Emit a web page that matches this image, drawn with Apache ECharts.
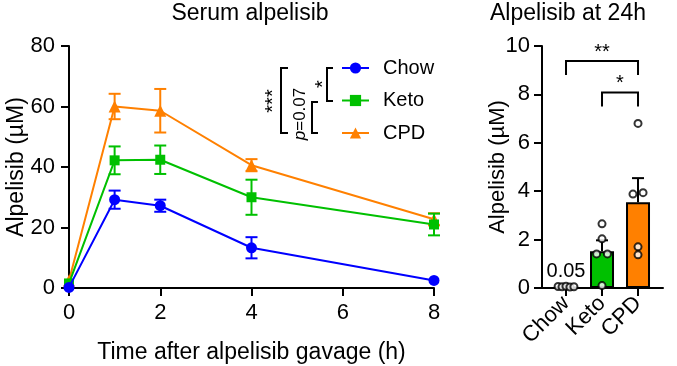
<!DOCTYPE html>
<html><head><meta charset="utf-8">
<script src="https://cdn.jsdelivr.net/npm/echarts@6/dist/echarts.min.js"></script>
<style>html,body{margin:0;padding:0;background:#fff}#c{width:677px;height:366px}</style>
</head><body><div id="c"></div>
<script>
// ---- Data: time course (left panel) ----
const times = [0, 1, 2, 4, 8];
const chowMean = [0.2, 29.2, 27.2, 13.3, 2.5];
const chowSem  = [0, 3.0, 2.0, 3.5, 0];
const ketoMean = [1.5, 42.2, 42.4, 30.0, 21.0];
const ketoSem  = [0, 4.6, 4.7, 5.8, 3.6];
const cpdMean  = [2.5, 60.0, 58.6, 40.6, 22.7];
const cpdSem   = [0, 4.2, 7.2, 2.0, 2.0];
const xTicks = [0, 2, 4, 6, 8];
const yTicksLeft = [0, 20, 40, 60, 80];

// ---- Data: 24h (right panel) ----
const groups = ['Chow', 'Keto', 'CPD'];
const barMeans = [0.05, 1.52, 3.54];
const barSems  = [0.02, 0.45, 1.0];
const chowPts = [0.06, 0.05, 0.07, 0.04, 0.05];
const ketoPts = [2.65, 2.03, 1.41, 1.41, 0.10];
const cpdPts  = [6.80, 3.88, 3.94, 1.70, 1.37];
const yTicksRight = [0, 2, 4, 6, 8, 10];
const sigFrom = [1, 2];
const sigTo   = [3, 3];
const sigY    = [9.38, 8.08];
const sigLabels = ['**', '*'];

// layout-only jitter (x offsets in category units)
const jitter = [
  [-0.22, -0.11, 0.0, 0.11, 0.22],
  [0.0, 0.0, -0.15, 0.15, 0.0],
  [0.0, -0.14, 0.14, 0.0, 0.0]
];

const FONT = 'Liberation Sans, Arial, sans-serif';
const BLUE = '#0000FF', GREEN = '#00C000', ORANGE = '#FF8000';

function errSeries(name, color, means, sems, z) {
  return {
    type: 'custom', xAxisIndex: 0, yAxisIndex: 0, z: z, silent: true,
    data: times.map((t, i) => [t, means[i], sems[i]]),
    renderItem: function (params, api) {
      const x = api.value(0), m = api.value(1), s = api.value(2);
      if (!s) return null;
      const lo = api.coord([x, m - s]), hi = api.coord([x, m + s]);
      const c = 6;
      const st = { stroke: color, lineWidth: 2 };
      return { type: 'group', children: [
        { type: 'line', shape: { x1: lo[0], y1: lo[1], x2: hi[0], y2: hi[1] }, style: st },
        { type: 'line', shape: { x1: hi[0] - c, y1: hi[1], x2: hi[0] + c, y2: hi[1] }, style: st },
        { type: 'line', shape: { x1: lo[0] - c, y1: lo[1], x2: lo[0] + c, y2: lo[1] }, style: st }
      ]};
    }
  };
}

function lineSeries(name, color, means, symbol, size, z) {
  return {
    name: name, type: 'line', xAxisIndex: 0, yAxisIndex: 0, z: z,
    data: times.map((t, i) => [t, means[i]]),
    symbol: symbol, symbolSize: size, showSymbol: true,
    lineStyle: { color: color, width: 2 },
    itemStyle: { color: color, borderWidth: 0 },
    animation: false
  };
}

const allPts = [chowPts, ketoPts, cpdPts];
const ptData = [];
allPts.forEach((arr, g) => arr.forEach((v, k) => ptData.push([g + 1 + jitter[g][k], v])));

const axisLineStyle = { color: '#000', width: 2 };
const labelStyle = { color: '#000', fontSize: 22, fontFamily: FONT };
const nameStyle = { color: '#000', fontSize: 23, fontFamily: FONT };

const option = {
  animation: false,
  textStyle: { fontFamily: FONT },
  grid: [
    { left: 69, right: 243, top: 46, bottom: 78, outerBoundsMode: 'none', containLabel: false },
    { left: 542, right: 14, top: 46, bottom: 78, outerBoundsMode: 'none', containLabel: false }
  ],
  xAxis: [
    { gridIndex: 0, type: 'value', min: 0, max: 8, interval: 2,
      axisLine: { lineStyle: axisLineStyle }, axisTick: { length: 8, lineStyle: axisLineStyle },
      axisLabel: Object.assign({ margin: 14 }, labelStyle), splitLine: { show: false },
      name: 'Time after alpelisib gavage (h)', nameLocation: 'middle', nameGap: 53, nameMoveOverlap: false,
      nameTextStyle: nameStyle },
    { gridIndex: 1, type: 'value', min: 0.333, max: 3.694,
      axisLine: { lineStyle: axisLineStyle },
      axisTick: { length: 8, lineStyle: axisLineStyle, customValues: [1, 2, 3] },
      axisLabel: Object.assign({ margin: 12, rotate: 45, customValues: [1, 2, 3],
        formatter: v => groups[Math.round(v) - 1] }, labelStyle),
      splitLine: { show: false } }
  ],
  yAxis: [
    { gridIndex: 0, type: 'value', min: 0, max: 80, interval: 20,
      axisLine: { show: true, lineStyle: axisLineStyle }, axisTick: { show: true, length: 8, lineStyle: axisLineStyle },
      axisLabel: Object.assign({ margin: 14 }, labelStyle), splitLine: { show: false },
      name: 'Alpelisib (\u00B5M)', nameLocation: 'middle', nameGap: 41, nameMoveOverlap: false,
      nameTextStyle: nameStyle },
    { gridIndex: 1, type: 'value', min: 0, max: 10, interval: 2,
      axisLine: { show: true, lineStyle: axisLineStyle }, axisTick: { show: true, length: 8, lineStyle: axisLineStyle },
      axisLabel: Object.assign({ margin: 12 }, labelStyle), splitLine: { show: false },
      name: 'Alpelisib (\u00B5M)', nameLocation: 'middle', nameGap: 33, nameMoveOverlap: false,
      nameTextStyle: labelStyle }
  ],
  legend: {
    data: ['Chow', 'Keto', 'CPD'], orient: 'vertical', left: 341, top: 58, padding: 0,
    itemWidth: 27, itemHeight: 14, itemGap: 12.5,
    textStyle: { fontSize: 20, color: '#000', fontFamily: FONT, lineHeight: 20, padding: [0, 0, 0, 9] }
  },
  series: [
    errSeries('CPD', ORANGE, cpdMean, cpdSem, 2),
    lineSeries('CPD', ORANGE, cpdMean, 'triangle', 12, 3),
    errSeries('Keto', GREEN, ketoMean, ketoSem, 4),
    lineSeries('Keto', GREEN, ketoMean, 'rect', 10, 5),
    errSeries('Chow', BLUE, chowMean, chowSem, 6),
    lineSeries('Chow', BLUE, chowMean, 'circle', 11, 7),
    // right panel bars
    { type: 'bar', xAxisIndex: 1, yAxisIndex: 1, barWidth: 24, z: 2,
      data: barMeans.map((m, i) => ({ value: [i + 1, m],
        itemStyle: { color: ['#ffffff', GREEN, ORANGE][i], borderColor: '#000', borderWidth: 2 },
        label: i === 0 ? { show: true, position: 'top', distance: 5, formatter: m.toFixed(2),
          fontSize: 20, color: '#000', fontFamily: FONT } : { show: false } })) },
    { type: 'custom', xAxisIndex: 1, yAxisIndex: 1, z: 3, silent: true,
      data: barMeans.map((m, i) => [i + 1, m, barSems[i]]),
      renderItem: function (params, api) {
        const x = api.value(0), m = api.value(1), s = api.value(2);
        const lo = api.coord([x, m]), hi = api.coord([x, m + s]);
        const st = { stroke: '#000', lineWidth: 2 };
        return { type: 'group', children: [
          { type: 'line', shape: { x1: lo[0], y1: lo[1], x2: hi[0], y2: hi[1] }, style: st },
          { type: 'line', shape: { x1: hi[0] - 6, y1: hi[1], x2: hi[0] + 6, y2: hi[1] }, style: st }
        ]};
      } },
    { type: 'scatter', xAxisIndex: 1, yAxisIndex: 1, z: 4, data: ptData,
      symbol: 'circle', symbolSize: 7,
      itemStyle: { color: '#fff', borderColor: '#000', borderWidth: 2 } },
    { type: 'custom', xAxisIndex: 1, yAxisIndex: 1, z: 5, silent: true,
      data: sigFrom.map((f, i) => [f, sigTo[i], sigY[i]]),
      renderItem: function (params, api) {
        const i = params.dataIndex;
        const a = api.coord([api.value(0), api.value(2)]);
        const b = api.coord([api.value(1), api.value(2)]);
        const drop = 14;
        return { type: 'group', children: [
          { type: 'polyline', shape: { points: [[a[0], a[1] + drop], a, b, [b[0], b[1] + drop]] },
            style: { stroke: '#000', lineWidth: 2, fill: null } },
          { type: 'text', x: (a[0] + b[0]) / 2, y: a[1] - 9,
            style: { text: sigLabels[i], fontSize: 20, fontFamily: FONT, fill: '#000',
              align: 'center', verticalAlign: 'middle' } }
        ]};
      } }
  ],
  graphic: [
    { type: 'text', x: 250, y: 14, style: { text: 'Serum alpelisib', fontSize: 23, fontFamily: FONT,
      fill: '#000', align: 'center', verticalAlign: 'middle' } },
    { type: 'text', x: 568, y: 14, style: { text: 'Alpelisib at 24h', fontSize: 23, fontFamily: FONT,
      fill: '#000', align: 'center', verticalAlign: 'middle' } },
    // significance brackets next to legend
    { type: 'polyline', shape: { points: [[288, 68], [281, 68], [281, 133], [288, 133]] },
      style: { stroke: '#000', lineWidth: 2, fill: null } },
    { type: 'polyline', shape: { points: [[333, 68], [327, 68], [327, 101], [333, 101]] },
      style: { stroke: '#000', lineWidth: 2, fill: null } },
    { type: 'polyline', shape: { points: [[318, 102], [312, 102], [312, 133], [318, 133]] },
      style: { stroke: '#000', lineWidth: 2, fill: null } },
    { type: 'text', x: 273, y: 101, rotation: Math.PI / 2,
      style: { text: '***', fontSize: 20, fontFamily: FONT, fill: '#000', align: 'center', verticalAlign: 'middle' } },
    { type: 'text', x: 323, y: 84, rotation: Math.PI / 2,
      style: { text: '*', fontSize: 20, fontFamily: FONT, fill: '#000', align: 'center', verticalAlign: 'middle' } },
    { type: 'text', x: 300, y: 114, rotation: Math.PI / 2,
      style: { text: '{i|p}=0.07', fontSize: 17, fontFamily: FONT, fill: '#000', align: 'center', verticalAlign: 'middle',
        rich: { i: { fontStyle: 'italic', fontSize: 17, fontFamily: FONT, fill: '#000' } } } }
  ]
};

const chart = echarts.init(document.getElementById('c'), null, { renderer: 'canvas' });
chart.setOption(option);
</script>
</body></html>
